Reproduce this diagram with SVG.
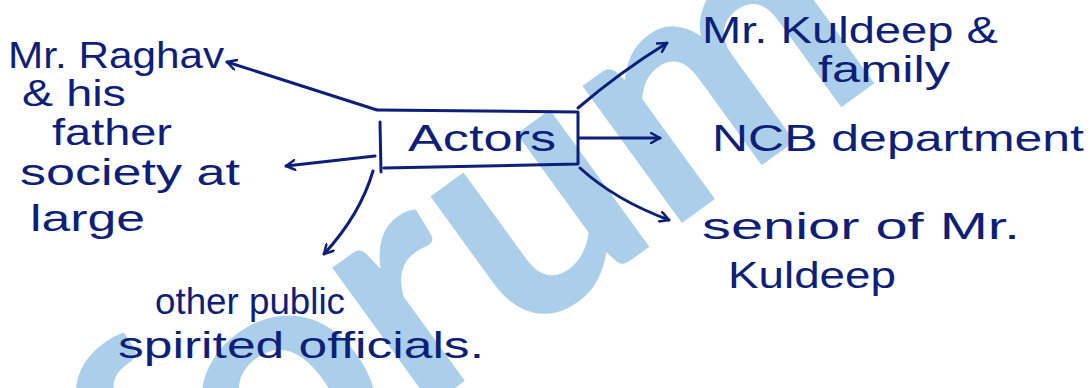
<svg xmlns="http://www.w3.org/2000/svg" width="1090" height="388" viewBox="0 0 1090 388">
  <style>
    .ink { font-family: "Liberation Sans", "DejaVu Sans", sans-serif; fill: #0d1f78; font-size: 36px; }
    .wire { fill: none; stroke: #0d1f78; stroke-width: 3; stroke-linecap: round; stroke-linejoin: round; }
    .wm { font-family: Lato, "Open Sans", sans-serif; font-weight: 700; font-size: 330px; fill: #abcfea; }
  </style>
  <defs>
    <marker id="tip" viewBox="0 0 12 12" refX="10" refY="6" markerWidth="12" markerHeight="12" markerUnits="userSpaceOnUse" orient="auto">
      <path d="M1,1 L10,6 L1,11" fill="none" stroke="#0d1f78" stroke-width="2.5" stroke-linecap="round" stroke-linejoin="round"/>
    </marker>
  </defs>

  <rect width="1090" height="388" fill="#ffffff"/>

  <!-- faint watermark behind the sketch -->
  <g id="watermark">
    <text class="wm" transform="translate(170 595) rotate(-36)">forum</text>
  </g>

  <!-- connectors -->
  <g id="connectors">
    <path class="wire" d="M377 110 L227 62" marker-end="url(#tip)"/>
    <path class="wire" d="M375 156 L286 166" marker-end="url(#tip)"/>
    <path class="wire" d="M373 171 Q360 215 324 254" marker-end="url(#tip)"/>
    <path class="wire" d="M578 108 Q620 72 667 43" marker-end="url(#tip)"/>
    <path class="wire" d="M579 138 L660 138" marker-end="url(#tip)"/>
    <path class="wire" d="M580 168 Q615 200 669 220" marker-end="url(#tip)"/>
  </g>

  <!-- central node -->
  <g id="actors">
    <path class="wire" d="M378 110 L578 112 L578 164 L384 168 M380 122 L381 172"/>
    <text class="ink" x="408" y="151" textLength="148" lengthAdjust="spacingAndGlyphs">Actors</text>
  </g>

  <g id="raghav">
    <text class="ink" x="8" y="68" textLength="216" lengthAdjust="spacingAndGlyphs">Mr. Raghav</text>
    <text class="ink" x="22" y="106" textLength="104" lengthAdjust="spacingAndGlyphs">&amp; his</text>
    <text class="ink" x="52" y="145" textLength="120" lengthAdjust="spacingAndGlyphs">father</text>
  </g>

  <g id="society">
    <text class="ink" x="20" y="185" textLength="220" lengthAdjust="spacingAndGlyphs">society at</text>
    <text class="ink" x="30" y="231" textLength="115" lengthAdjust="spacingAndGlyphs">large</text>
  </g>

  <g id="officials">
    <text class="ink" x="155" y="314" textLength="190" lengthAdjust="spacingAndGlyphs">other public</text>
    <text class="ink" x="118" y="358" textLength="366" lengthAdjust="spacingAndGlyphs">spirited officials.</text>
  </g>

  <g id="kuldeep-family">
    <text class="ink" x="702" y="43" textLength="296" lengthAdjust="spacingAndGlyphs">Mr. Kuldeep &amp;</text>
    <text class="ink" x="818" y="82" textLength="132" lengthAdjust="spacingAndGlyphs">family</text>
  </g>

  <g id="ncb">
    <text class="ink" x="712" y="151" textLength="372" lengthAdjust="spacingAndGlyphs">NCB department</text>
  </g>

  <g id="senior">
    <text class="ink" x="702" y="239" textLength="318" lengthAdjust="spacingAndGlyphs">senior of Mr.</text>
    <text class="ink" x="728" y="288" textLength="168" lengthAdjust="spacingAndGlyphs">Kuldeep</text>
  </g>
</svg>
